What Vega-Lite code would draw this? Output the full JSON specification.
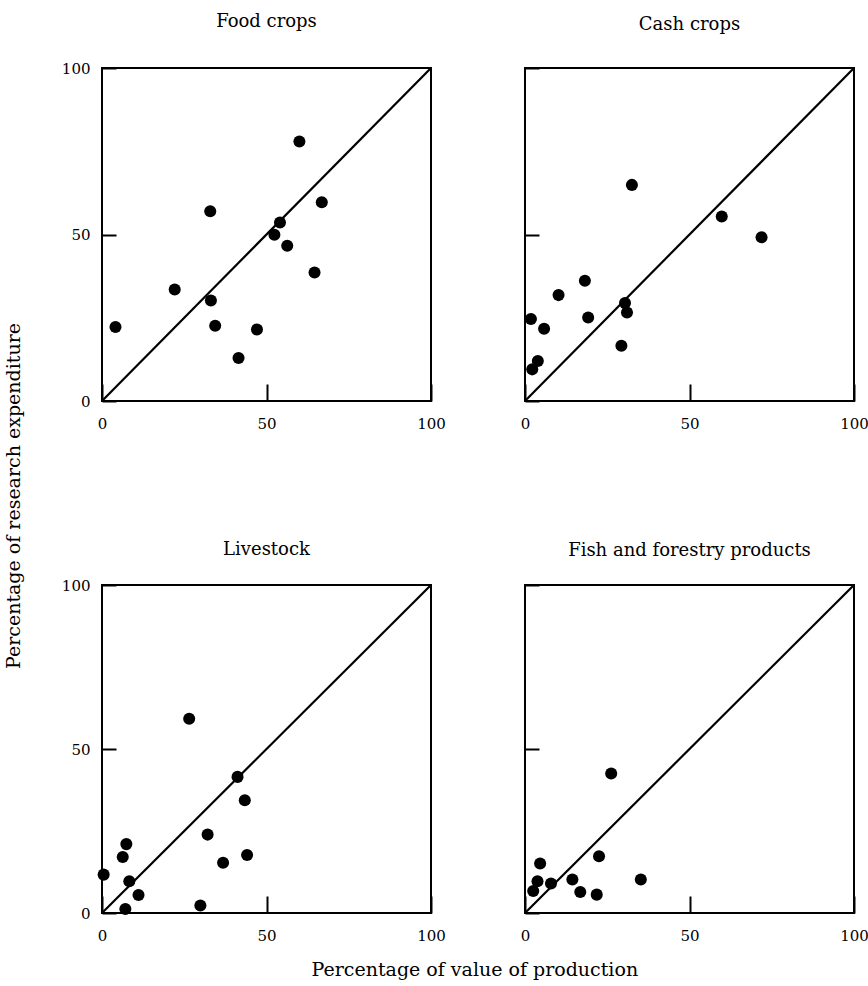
{
  "$schema": "https://vega.github.io/schema/vega-lite/v6.json",
  "background": "white",
  "padding": {"left": 5, "top": 12, "right": 0, "bottom": 0},
  "datasets": {
    "pts": [
      {"panel": "Food crops", "x": 4.1, "y": 22.2},
      {"panel": "Food crops", "x": 22.1, "y": 33.5},
      {"panel": "Food crops", "x": 32.9, "y": 57.0},
      {"panel": "Food crops", "x": 33.1, "y": 30.2},
      {"panel": "Food crops", "x": 34.4, "y": 22.6},
      {"panel": "Food crops", "x": 41.5, "y": 12.9},
      {"panel": "Food crops", "x": 47.1, "y": 21.5},
      {"panel": "Food crops", "x": 52.4, "y": 49.9},
      {"panel": "Food crops", "x": 54.1, "y": 53.6},
      {"panel": "Food crops", "x": 56.3, "y": 46.6},
      {"panel": "Food crops", "x": 60.0, "y": 77.9},
      {"panel": "Food crops", "x": 64.6, "y": 38.6},
      {"panel": "Food crops", "x": 66.8, "y": 59.7},
      {"panel": "Cash crops", "x": 1.8, "y": 24.6},
      {"panel": "Cash crops", "x": 2.2, "y": 9.5},
      {"panel": "Cash crops", "x": 3.9, "y": 12.0},
      {"panel": "Cash crops", "x": 5.8, "y": 21.7},
      {"panel": "Cash crops", "x": 10.2, "y": 31.8},
      {"panel": "Cash crops", "x": 18.2, "y": 36.1},
      {"panel": "Cash crops", "x": 19.2, "y": 25.1},
      {"panel": "Cash crops", "x": 29.3, "y": 16.6},
      {"panel": "Cash crops", "x": 30.4, "y": 29.4},
      {"panel": "Cash crops", "x": 31.0, "y": 26.6},
      {"panel": "Cash crops", "x": 32.5, "y": 64.9},
      {"panel": "Cash crops", "x": 59.8, "y": 55.4},
      {"panel": "Cash crops", "x": 71.9, "y": 49.2},
      {"panel": "Livestock", "x": 0.5, "y": 11.7},
      {"panel": "Livestock", "x": 6.3, "y": 17.1},
      {"panel": "Livestock", "x": 7.4, "y": 21.0},
      {"panel": "Livestock", "x": 7.1, "y": 1.2},
      {"panel": "Livestock", "x": 8.3, "y": 9.7},
      {"panel": "Livestock", "x": 11.1, "y": 5.5},
      {"panel": "Livestock", "x": 26.5, "y": 59.2},
      {"panel": "Livestock", "x": 29.9, "y": 2.3},
      {"panel": "Livestock", "x": 32.1, "y": 23.9},
      {"panel": "Livestock", "x": 36.8, "y": 15.3},
      {"panel": "Livestock", "x": 41.2, "y": 41.5},
      {"panel": "Livestock", "x": 43.4, "y": 34.4},
      {"panel": "Livestock", "x": 44.1, "y": 17.7},
      {"panel": "Fish and forestry products", "x": 2.5, "y": 6.7},
      {"panel": "Fish and forestry products", "x": 3.8, "y": 9.7},
      {"panel": "Fish and forestry products", "x": 4.6, "y": 15.1},
      {"panel": "Fish and forestry products", "x": 7.9, "y": 9.0},
      {"panel": "Fish and forestry products", "x": 14.4, "y": 10.2},
      {"panel": "Fish and forestry products", "x": 16.8, "y": 6.4},
      {"panel": "Fish and forestry products", "x": 21.8, "y": 5.6},
      {"panel": "Fish and forestry products", "x": 22.5, "y": 17.3},
      {"panel": "Fish and forestry products", "x": 26.2, "y": 42.5},
      {"panel": "Fish and forestry products", "x": 35.2, "y": 10.2}
    ],
    "diag": [
      {"x": 0, "y": 0},
      {"x": 100, "y": 100}
    ]
  },
  "config": {
    "font": "DejaVu Serif",
    "view": {"stroke": "black", "strokeWidth": 2},
    "axis": {
      "grid": false,
      "domain": false,
      "labelFont": "DejaVu Serif",
      "labelFontSize": 15,
      "labelColor": "black",
      "tickColor": "black",
      "tickWidth": 2,
      "labelFlush": false,
      "labelOverlap": false,
      "title": null
    },
    "axisX": {"tickSize": -17, "labelPadding": 32},
    "axisY": {"tickSize": -14, "labelPadding": 26},
    "title": {"font": "DejaVu Serif", "fontSize": 18, "fontWeight": "normal", "color": "black"}
  },
  "spacing": 108,
  "title": {"text": "Percentage of research expenditure", "orient": "left", "anchor": "middle", "offset": 36, "fontSize": 19},
  "vconcat": [
    {
      "spacing": 72,
      "hconcat": [
        {
          "title": {"text": "Food crops", "offset": 16, "baseline": "alphabetic", "frame": "group", "anchor": "middle"},
          "width": 329,
          "height": 333,
          "data": {"name": "pts"},
          "transform": [{"filter": "datum.panel == 'Food crops'"}],
          "layer": [
            {
              "data": {"name": "diag"},
              "mark": {"type": "line", "color": "black", "strokeWidth": 2.2},
              "encoding": {
                "x": {"field": "x", "type": "quantitative", "scale": {"domain": [0, 100], "nice": false}, "axis": {"values": [0, 50, 100]}},
                "y": {"field": "y", "type": "quantitative", "scale": {"domain": [0, 100], "nice": false}, "axis": {"values": [0, 50, 100]}}
              }
            },
            {
              "mark": {"type": "circle", "color": "black", "opacity": 1, "size": 145},
              "encoding": {
                "x": {"field": "x", "type": "quantitative"},
                "y": {"field": "y", "type": "quantitative"}
              }
            }
          ]
        },
        {
          "title": {"text": "Cash crops", "offset": 16, "baseline": "alphabetic", "frame": "group", "anchor": "middle"},
          "width": 329,
          "height": 333,
          "data": {"name": "pts"},
          "transform": [{"filter": "datum.panel == 'Cash crops'"}],
          "layer": [
            {
              "data": {"name": "diag"},
              "mark": {"type": "line", "color": "black", "strokeWidth": 2.2},
              "encoding": {
                "x": {"field": "x", "type": "quantitative", "scale": {"domain": [0, 100], "nice": false}, "axis": {"values": [0, 50, 100]}},
                "y": {"field": "y", "type": "quantitative", "scale": {"domain": [0, 100], "nice": false}, "axis": {"values": [0, 50, 100], "labels": false}}
              }
            },
            {
              "mark": {"type": "circle", "color": "black", "opacity": 1, "size": 145},
              "encoding": {
                "x": {"field": "x", "type": "quantitative"},
                "y": {"field": "y", "type": "quantitative"}
              }
            }
          ]
        }
      ]
    },
    {
      "spacing": 72,
      "title": {"text": "Percentage of value of production", "orient": "bottom", "anchor": "middle", "offset": 17, "dx": 10, "fontSize": 19},
      "hconcat": [
        {
          "title": {"text": "Livestock", "offset": 5, "baseline": "alphabetic", "frame": "group", "anchor": "middle"},
          "width": 329,
          "height": 328,
          "data": {"name": "pts"},
          "transform": [{"filter": "datum.panel == 'Livestock'"}],
          "layer": [
            {
              "data": {"name": "diag"},
              "mark": {"type": "line", "color": "black", "strokeWidth": 2.2},
              "encoding": {
                "x": {"field": "x", "type": "quantitative", "scale": {"domain": [0, 100], "nice": false}, "axis": {"values": [0, 50, 100]}},
                "y": {"field": "y", "type": "quantitative", "scale": {"domain": [0, 100], "nice": false}, "axis": {"values": [0, 50, 100]}}
              }
            },
            {
              "mark": {"type": "circle", "color": "black", "opacity": 1, "size": 145},
              "encoding": {
                "x": {"field": "x", "type": "quantitative"},
                "y": {"field": "y", "type": "quantitative"}
              }
            }
          ]
        },
        {
          "title": {"text": "Fish and forestry products", "offset": 7, "baseline": "alphabetic", "frame": "group", "anchor": "middle"},
          "width": 329,
          "height": 328,
          "data": {"name": "pts"},
          "transform": [{"filter": "datum.panel == 'Fish and forestry products'"}],
          "layer": [
            {
              "data": {"name": "diag"},
              "mark": {"type": "line", "color": "black", "strokeWidth": 2.2},
              "encoding": {
                "x": {"field": "x", "type": "quantitative", "scale": {"domain": [0, 100], "nice": false}, "axis": {"values": [0, 50, 100]}},
                "y": {"field": "y", "type": "quantitative", "scale": {"domain": [0, 100], "nice": false}, "axis": {"values": [0, 50, 100], "labels": false}}
              }
            },
            {
              "mark": {"type": "circle", "color": "black", "opacity": 1, "size": 145},
              "encoding": {
                "x": {"field": "x", "type": "quantitative"},
                "y": {"field": "y", "type": "quantitative"}
              }
            }
          ]
        }
      ]
    }
  ]
}
